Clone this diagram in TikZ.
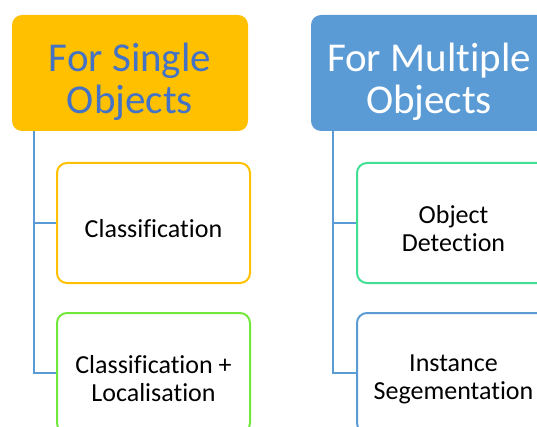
\documentclass[tikz,border=0pt]{standalone}
\usepackage{fontspec}
\setmainfont{Carlito}[Ligatures=NoCommon]
\usepackage{tikz}
\usetikzlibrary{positioning, calc}

\definecolor{headyellow}{HTML}{FFC000}
\definecolor{headblue}{HTML}{5B9BD5}
\definecolor{headtext}{HTML}{4472C4}
\definecolor{leafgreen}{HTML}{72E83C}
\definecolor{leafteal}{HTML}{3FDF94}
\definecolor{linkblue}{HTML}{5B9BD5}

\begin{document}
\begin{tikzpicture}[x=1pt, y=-1pt]
    \tikzset{
        head/.style={
                rounded corners=10pt, minimum width=236pt, minimum height=116pt,
                inner sep=0pt, align=center, font=\fontsize{41}{42}\selectfont,
                execute at begin node={\rule{0pt}{88pt}}
            },
        leaf/.style={
                draw, line width=2pt, rounded corners=10pt, fill=white,
                minimum width=193pt, minimum height=120pt,
                inner sep=0pt, align=center, font=\fontsize{26}{28}\selectfont,
                execute at begin node={\rule{0pt}{29pt}}
            },
        twoline/.style={
                execute at begin node={\rule{0pt}{57pt}}
            },
        link/.style={
                draw=linkblue, line width=2pt
            }
    }

    \useasboundingbox (0,0) rectangle (537,427);
    \clip (0,0) rectangle (537,427);

    % headers
    \node[head, fill=headyellow, text=headtext] (single) at (130,73) {For Single\\Objects};
    \node[head, fill=headblue, text=white] (multiple) at (429,73) {For Multiple\\Objects};

    % leaves
    \node[leaf, draw=headyellow] (cls) at (153.5,223) {Classification};
    \node[leaf, twoline, draw=leafgreen] (clsloc) at (153.5,373) {Classification +\\Localisation};
    \node[leaf, twoline, draw=leafteal] (detect) at (453.5,223) {Object\\Detection};
    \node[leaf, twoline, draw=headblue] (instseg) at (453.5,373) {Instance\\Segementation};

    % trunks
    \coordinate (singletrunk) at ([xshift=22pt]single.south west);
    \coordinate (multitrunk) at ([xshift=22pt]multiple.south west);
    \draw[link] (singletrunk) |- (cls.west);
    \draw[link] (singletrunk) |- (clsloc.west);
    \draw[link] (multitrunk) |- (detect.west);
    \draw[link] (multitrunk) |- (instseg.west);
\end{tikzpicture}
\end{document}
